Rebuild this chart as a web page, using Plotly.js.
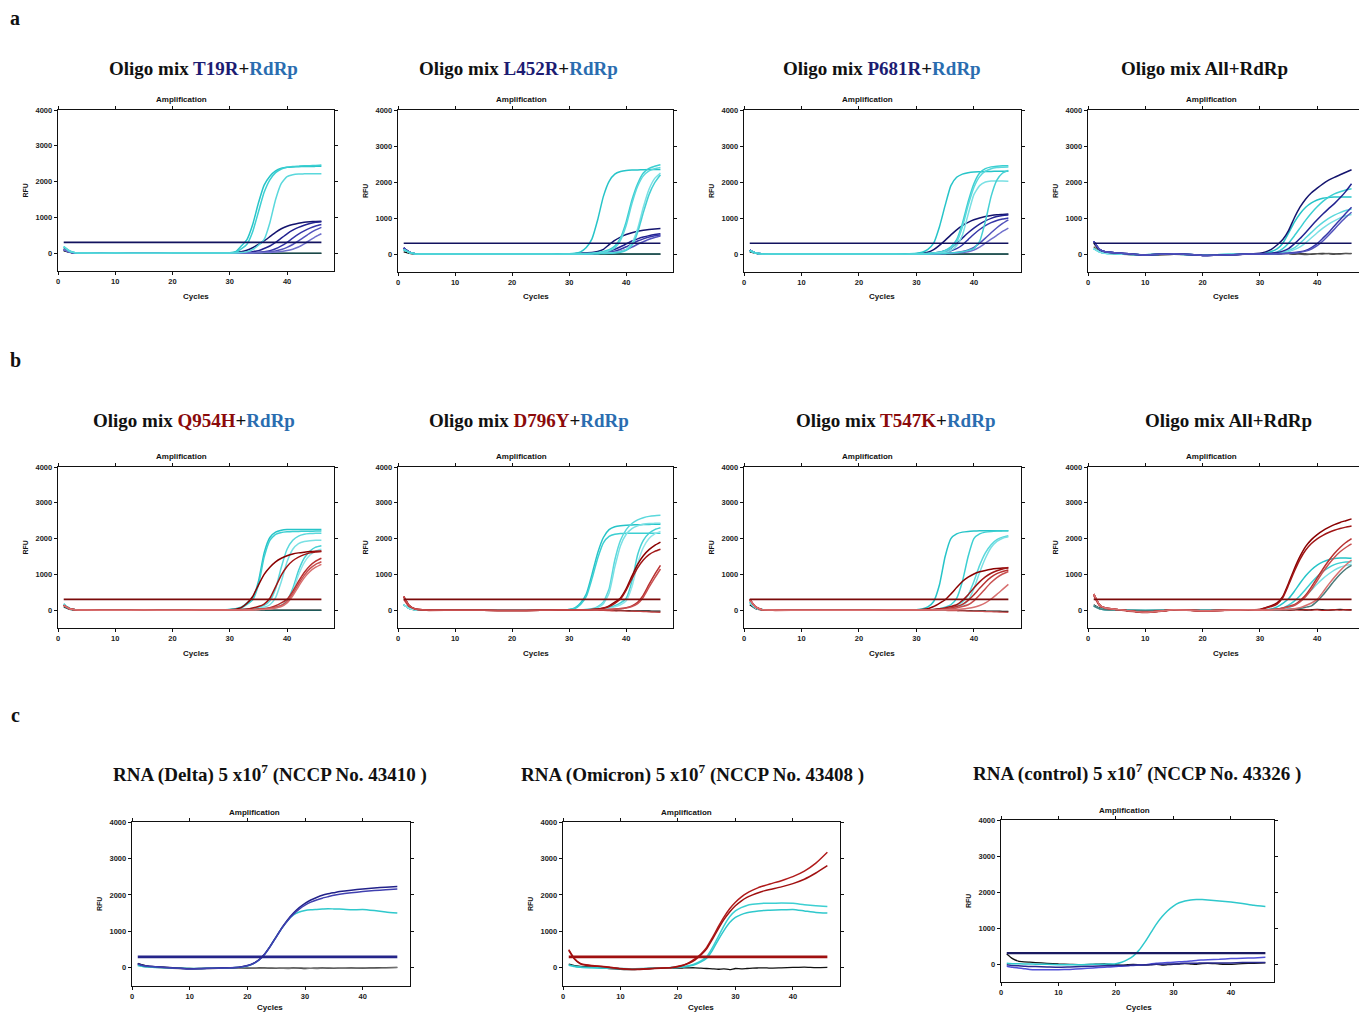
<!DOCTYPE html>
<html><head><meta charset="utf-8">
<script src="https://cdn.plot.ly/plotly-3.0.1.min.js"></script>
<style>html,body{margin:0;padding:0;background:#fff}#chart{width:1359px;height:1012px}</style>
</head><body><div id="chart"></div>
<script>
// ---------- cycles ----------
const CYC_EARLY = [1,2,3,5,10,15,20,25,28];
const CYC_LATE = [30,31,32,33,34,35,36,37,38,39,40,41,42,43,44,45,46];
const CYC_C = [1,2,3,4,5,6,8,10,12,14,16,18,19,20,21,22,23,24,25,26,27,28,29,30,31,32,33,34,35,36,38,40,42,44,46];
const THR_X = [1,46];
const THR_ROW_A = [300,300];
const THR_ROW_B = [300,300];
const THR_ROW_C = [300,300];
const X_TICKS = [0,10,20,30,40];
const Y_TICKS = [0,1000,2000,3000,4000];

// ---------- a1 : T19R ----------
const a1_cyan_early = [180,60,10,0,0,-5,0,0,5];
const a1_cyan = [
 [10,40,200,380,800,1400,1900,2150,2300,2370,2400,2410,2415,2420,2420,2425,2430],
 [5,20,120,250,600,1150,1700,2050,2250,2350,2400,2420,2430,2440,2445,2450,2460],
 [0,5,15,40,100,220,380,850,1500,1950,2140,2190,2210,2215,2220,2220,2220]];
const a1_navy_early = [100,30,5,0,0,0,0,0,5];
const a1_navy = [
 [10,20,40,80,150,240,340,460,580,680,750,800,835,860,875,885,890],
 [0,5,10,20,40,70,130,200,300,420,540,640,720,780,830,865,880],
 [0,0,5,10,15,25,40,70,120,200,300,420,530,620,700,760,800],
 [0,0,0,5,10,15,25,40,60,100,160,240,340,450,560,650,720],
 [0,0,0,0,5,10,15,20,30,45,70,110,170,260,360,460,540]];
const a1_neg = [
 [60,20,0,-5,-5,-5,-5,-5,-5,-5,-5,-5,-5,-5,-5,-5,-5,-5,-5,-5,-5,-5,-5,-5,-5,-5],
 [150,40,5,0,0,0,0,0,0,0,0,0,0,0,0,0,0,0,0,0,0,0,0,0,0,0]];

// ---------- a2 : L452R ----------
const a2_cyan_early = [120,40,5,0,0,0,0,0,5];
const a2_cyan = [
 [10,20,60,180,420,950,1600,2020,2220,2290,2320,2330,2335,2340,2345,2345,2350],
 [0,5,10,15,20,40,70,120,220,450,900,1500,1950,2250,2380,2440,2480],
 [0,0,5,10,15,30,50,90,170,380,800,1400,1880,2170,2310,2370,2400],
 [0,0,0,5,10,15,20,30,40,70,130,300,700,1300,1800,2100,2250],
 [0,0,0,0,5,10,15,20,30,50,100,240,600,1150,1650,1980,2200]];
const a2_navy_early = [170,50,10,0,0,0,-5,0,5];
const a2_navy = [
 [5,10,20,30,40,70,130,260,380,470,540,590,630,660,680,695,705],
 [0,5,10,15,20,30,50,80,130,200,280,360,420,470,510,540,560],
 [0,0,5,10,15,20,30,50,80,130,200,280,360,420,470,505,530],
 [0,0,0,5,10,15,20,30,50,80,120,190,270,340,410,460,500]];
const a2_neg = [
 [60,20,0,-5,-5,-5,-5,-5,-5,-5,-5,-5,-5,-5,-5,-5,-5,-5,-5,-5,-5,-5,-5,-5,-5,-5],
 [130,40,5,0,0,0,0,0,0,0,0,0,0,0,0,0,0,0,0,0,0,0,0,0,0,0]];

// ---------- a3 : P681R ----------
const a3_cyan_early = [90,30,5,0,0,0,0,0,5];
const a3_cyan = [
 [20,50,130,300,750,1350,1900,2130,2220,2260,2280,2285,2290,2295,2300,2300,2300],
 [5,10,20,30,50,100,200,400,850,1450,1950,2250,2370,2420,2440,2450,2450],
 [0,5,10,20,40,80,160,330,750,1350,1850,2150,2300,2370,2400,2410,2420],
 [0,5,10,15,25,40,100,230,520,1100,1650,1900,2000,2030,2030,2025,2020],
 [0,0,0,5,10,15,25,40,60,100,150,350,900,1600,2050,2250,2320]];
const a3_navy_early = [110,30,5,0,0,0,0,0,5];
const a3_navy = [
 [10,20,50,120,240,380,530,670,790,880,950,1000,1040,1070,1090,1100,1110],
 [0,5,15,30,50,90,160,290,440,590,720,830,920,990,1040,1070,1080],
 [0,0,5,15,30,50,90,150,250,400,550,680,790,870,930,970,1000],
 [0,0,0,5,10,20,30,45,70,110,180,300,440,590,730,850,950],
 [0,0,0,0,5,10,15,25,40,60,110,190,300,410,520,630,720]];
const a3_neg = [
 [60,20,0,-5,-5,-5,-5,-5,-5,-5,-5,-5,-5,-5,-5,-5,-5,-5,-5,-5,-5,-5,-5,-5,-5,-5],
 [100,30,5,0,0,0,0,0,0,0,0,0,0,0,0,0,0,0,0,0,0,0,0,0,0,0]];

// ---------- a4 : All ----------
const a4_navy_early = [350,130,60,30,-30,10,-40,-20,0];
const a4_navy = [
 [20,60,130,250,400,650,1000,1300,1530,1700,1830,1950,2050,2130,2200,2270,2340],
 [0,10,20,40,80,150,280,430,600,780,950,1110,1260,1400,1560,1740,1950],
 [0,0,5,10,15,25,40,60,100,180,290,440,600,780,950,1130,1300],
 [0,0,0,5,10,20,30,50,80,140,230,360,520,690,860,1020,1160]];
const a4_cyan_early = [150,60,20,10,-20,0,-30,-10,0];
const a4_cyan = [
 [10,30,70,140,300,580,880,1120,1300,1420,1500,1550,1570,1580,1585,1585,1580],
 [0,10,30,60,150,300,500,720,940,1140,1310,1460,1580,1670,1730,1780,1810],
 [0,0,10,20,50,100,170,300,450,600,750,880,990,1080,1150,1210,1250],
 [0,0,0,10,30,60,120,200,310,450,590,720,830,920,1000,1060,1100]];
const a4_neg = [
 [300,100,40,10,-40,-10,-30,-20,0,0,10,0,-10,20,10,0,10,0,-10,10,20,10,0,10,20,10],
 [200,80,30,0,-20,10,-40,-10,10,10,0,-10,0,10,20,10,0,-20,0,10,0,20,10,0,10,20]];

// ---------- b1 : Q954H ----------
const b1_cyan_early = [170,50,10,0,-5,-5,-5,0,5];
const b1_cyan = [
 [20,40,80,200,330,800,1600,2030,2180,2230,2250,2250,2250,2250,2255,2255,2255],
 [15,30,60,160,290,700,1480,1950,2120,2170,2190,2200,2200,2205,2205,2210,2210],
 [5,10,20,30,50,80,130,260,600,1200,1700,1950,2070,2120,2140,2150,2150],
 [0,5,10,20,30,50,80,150,350,800,1350,1700,1860,1920,1940,1950,1950],
 [0,0,5,10,15,25,35,50,80,130,260,600,1100,1450,1650,1760,1800],
 [0,0,0,5,10,20,30,40,60,110,230,520,980,1330,1540,1650,1700]];
const b1_red_early = [130,40,10,0,-5,0,-5,0,5];
const b1_red = [
 [10,25,70,190,380,700,1000,1200,1350,1450,1520,1570,1600,1620,1635,1645,1650],
 [0,5,15,30,60,100,170,330,650,980,1220,1380,1480,1550,1600,1625,1640],
 [0,0,5,10,20,30,40,70,120,200,300,520,800,1050,1240,1370,1450],
 [0,0,0,5,10,20,30,50,80,130,240,450,730,970,1160,1280,1350],
 [0,0,0,0,5,10,20,30,60,100,200,400,660,900,1080,1200,1280]];
const b1_neg = [
 [140,40,5,0,0,0,0,0,0,0,0,0,0,0,0,0,0,0,0,0,0,0,0,0,0,0],
 [80,20,0,-5,-5,-5,-5,-5,-5,-5,-5,-5,-5,-5,-5,-5,-5,-5,-5,-5,-5,-5,-5,-5,-5,-5]];

// ---------- b2 : D796Y ----------
const b2_cyan_early = [150,40,10,0,-5,-5,-5,0,0];
const b2_cyan = [
 [20,60,200,450,1000,1600,2030,2250,2330,2360,2375,2380,2385,2390,2395,2400,2400],
 [15,45,160,380,880,1450,1880,2060,2120,2140,2150,2150,2150,2150,2150,2150,2150],
 [0,5,10,20,40,100,230,600,1400,1950,2250,2420,2520,2580,2620,2640,2650],
 [0,5,10,15,30,70,180,480,1200,1800,2120,2280,2360,2400,2420,2425,2430],
 [0,0,5,10,15,25,40,70,120,200,330,800,1550,1950,2150,2250,2300],
 [0,0,0,5,10,20,30,50,90,150,260,650,1300,1750,2000,2130,2200]];
const b2_red_early = [380,120,30,5,-5,-5,-10,-5,0];
const b2_red = [
 [0,0,5,10,20,30,60,120,220,340,600,950,1280,1520,1690,1810,1900],
 [0,0,0,5,15,25,50,100,190,310,560,880,1180,1400,1550,1640,1700],
 [0,0,0,0,5,10,15,20,30,45,70,120,220,420,720,1000,1250],
 [0,0,0,0,0,5,10,15,25,40,60,100,180,360,640,900,1150]];
const b2_neg = [
 [150,40,5,-5,-5,-5,-5,-5,-5,-5,-5,-5,-5,-5,-5,-5,-5,-10,-10,-15,-20,-20,-25,-25,-30,-30],
 [300,80,10,-10,-5,-10,-5,-5,-10,-10,-10,-10,-10,-10,-10,-10,-15,-20,-20,-25,-30,-35,-40,-50,-55,-60]];

// ---------- b3 : T547K ----------
const b3_cyan_early = [220,60,15,0,-5,-5,-5,0,0];
const b3_cyan = [
 [10,30,90,240,700,1500,2000,2130,2180,2200,2210,2215,2215,2220,2220,2220,2220],
 [0,5,10,20,40,80,150,330,800,1500,2000,2130,2180,2200,2210,2215,2220],
 [0,0,5,10,20,40,70,130,230,420,800,1250,1600,1830,1970,2040,2080],
 [0,0,0,5,10,20,40,70,140,270,600,1050,1450,1750,1920,2010,2050]];
const b3_red_early = [300,90,20,0,-5,-5,-5,0,0];
const b3_red = [
 [10,20,40,100,190,290,450,630,800,920,1010,1070,1110,1140,1160,1175,1180],
 [0,5,10,20,35,60,100,150,270,430,620,790,930,1030,1100,1150,1190],
 [0,0,5,10,20,35,60,100,160,270,430,610,780,920,1020,1080,1120],
 [0,0,0,5,10,20,35,60,100,150,260,420,600,770,910,1010,1080],
 [0,0,0,0,5,10,15,20,30,50,80,130,200,310,440,580,720]];
const b3_neg = [
 [150,40,5,-5,-5,-5,-5,-5,-5,-5,-5,-5,-5,-5,-5,-5,-10,-10,-15,-20,-20,-25,-30,-30,-35,-35],
 [250,70,10,-10,-5,-10,-5,-5,-10,-10,-10,-10,-10,-10,-10,-15,-15,-20,-25,-30,-35,-40,-45,-50,-55,-60]];

// ---------- b4 : All ----------
const b4_red_early = [450,150,60,20,-60,10,-20,0,10];
const b4_red = [
 [20,70,120,200,380,750,1150,1500,1780,1970,2110,2220,2310,2390,2450,2500,2550],
 [15,60,100,170,350,700,1080,1420,1680,1860,1990,2090,2170,2230,2280,2320,2350],
 [0,5,15,30,60,100,150,260,420,650,900,1150,1380,1580,1750,1890,2000],
 [0,5,10,25,50,90,130,230,380,580,820,1060,1280,1470,1630,1750,1850],
 [0,0,5,10,15,25,40,70,130,200,300,500,720,920,1100,1260,1400]];
const b4_cyan_early = [120,40,10,0,-10,0,-5,0,0];
const b4_cyan = [
 [5,15,30,90,190,320,520,750,960,1130,1260,1350,1410,1440,1455,1460,1450],
 [0,5,15,30,60,140,250,400,580,770,940,1080,1190,1270,1320,1345,1350],
 [0,0,5,15,30,60,140,250,390,560,730,880,1010,1120,1200,1250,1280],
 [0,0,0,5,10,20,35,50,80,120,250,420,620,820,1000,1150,1250]];
const b4_neg = [
 [150,60,20,10,-20,0,-10,0,5,0,10,0,-10,10,0,10,20,0,10,20,10,0,10,20,10,10],
 [400,120,50,10,-70,0,-20,-10,10,0,10,0,0,-10,0,10,0,10,0,10,-10,0,10,0,10,0]];

// ---------- c1 : Delta ----------
const c1_navy = [
 [110,60,40,30,20,10,-10,-30,-20,-10,0,10,30,60,120,220,380,600,850,1100,1320,1500,1650,1770,1860,1930,1990,2030,2060,2090,2130,2160,2190,2210,2230],
 [100,55,35,25,15,5,-15,-35,-25,-15,-5,5,25,55,110,210,370,590,840,1090,1300,1470,1610,1720,1800,1860,1910,1950,1990,2020,2060,2090,2120,2140,2160]];
const c1_cyan = [
 [60,30,20,10,5,0,-10,-20,-20,-10,-5,5,20,50,110,210,370,600,850,1090,1300,1450,1530,1570,1590,1600,1610,1620,1615,1610,1590,1600,1570,1530,1500]];
const c1_neg = [
 [120,70,40,30,20,10,-5,-20,-20,-15,-10,-5,-5,-10,-10,-5,-5,-10,-15,-10,-10,-5,-10,-20,-15,-10,-5,-10,-15,-10,-5,-10,0,5,10],
 [80,40,20,10,0,-10,-20,-30,-25,-20,-15,-10,-10,-5,-10,-15,-10,-5,-10,-15,-20,-10,-5,-10,-15,-20,-10,-5,-10,-15,-10,-5,-10,0,5]];

// ---------- c2 : Omicron ----------
const c2_red = [
 [500,250,120,80,60,50,20,-20,-40,-30,-10,0,10,40,80,150,250,380,560,830,1120,1390,1620,1800,1940,2050,2130,2200,2250,2300,2390,2500,2650,2870,3170],
 [480,240,110,70,50,40,10,-30,-50,-40,-20,-5,5,30,70,130,220,350,520,780,1060,1320,1530,1700,1830,1930,2000,2060,2110,2150,2220,2310,2430,2600,2800]];
const c2_cyan = [
 [80,40,20,10,5,0,-10,-20,-30,-20,-10,0,5,15,30,60,110,190,300,550,850,1150,1400,1560,1650,1710,1740,1760,1770,1770,1775,1770,1730,1700,1680],
 [70,35,15,5,0,-5,-15,-25,-30,-25,-10,0,5,10,25,50,90,160,260,480,760,1020,1240,1380,1460,1510,1540,1560,1575,1580,1590,1600,1560,1520,1500]];
const c2_neg = [
 [100,60,40,30,20,10,-20,-40,-50,-30,-10,0,-5,-10,-5,0,0,-10,-20,-30,-40,-30,-50,-20,-30,-20,-10,-5,0,-10,0,10,20,5,10]];

// ---------- c3 : control ----------
const c3_cyan = [
 [20,10,5,0,0,-5,-10,-20,-20,-20,-10,-5,0,10,50,120,220,380,600,850,1100,1310,1480,1610,1700,1750,1780,1790,1790,1780,1750,1720,1680,1630,1600]];
const c3_blue = [
 [-60,-90,-110,-130,-150,-160,-160,-160,-150,-130,-110,-90,-80,-70,-60,-50,-40,-30,-20,0,20,30,40,50,60,70,80,100,110,120,130,150,160,170,185],
 [-20,-40,-50,-60,-70,-70,-80,-90,-80,-70,-60,-50,-50,-40,-40,-40,-30,-30,-20,-20,-10,-10,0,0,10,20,20,20,30,30,30,30,40,40,40]];
const c3_neg = [
 [280,150,80,60,50,40,20,0,-10,-20,-10,0,-10,-20,-30,-20,-10,-20,-30,-20,-10,-30,-20,-10,0,10,0,-10,10,20,0,-10,10,20,30]];

// ---------- styles ----------
const NAVY = ['#14146e','#222290','#3636a8','#5252bc','#7070cc'];
const CYAN = ['#26c4c8','#3ccfd2','#5ad8dc','#7ae0e4','#45d0d4','#8fe6ea'];
const RED = ['#8a0000','#a01515','#b83030','#c85050','#d87070'];
const NEGC = ['#111111','#1e5a5a'];

const NAVYT = '#1c1c72', BLUET = '#2a6db0', REDT = '#8b0a0a';
function t(mid, col){ return 'Oligo mix <span style="color:'+col+'">'+mid+'</span>+<span style="color:'+BLUET+'">RdRp</span>'; }

const PANELS = [
 {box:[58,334,110,271], xr:[0,48.2], thr:THR_ROW_A, thrC:'#12125e', thrW:1.6, cut:false,
  groups:[{e:a1_navy_early,c:a1_navy,col:NAVY},{e:a1_cyan_early,c:a1_cyan,col:CYAN}], neg:a1_neg, negc:NEGC,
  title:t('T19R',NAVYT), tp:[203,68]},
 {box:[398,673,110,272], xr:[0,48.2], thr:THR_ROW_A, thrC:'#12125e', thrW:1.6, cut:false,
  groups:[{e:a2_navy_early,c:a2_navy,col:NAVY},{e:a2_cyan_early,c:a2_cyan,col:CYAN}], neg:a2_neg, negc:NEGC,
  title:t('L452R',NAVYT), tp:[518,68]},
 {box:[744,1021,110,272], xr:[0,48.2], thr:THR_ROW_A, thrC:'#12125e', thrW:1.6, cut:false,
  groups:[{e:a3_navy_early,c:a3_navy,col:NAVY},{e:a3_cyan_early,c:a3_cyan,col:CYAN}], neg:a3_neg, negc:NEGC,
  title:t('P681R',NAVYT), tp:[882,68]},
 {box:[1088,1359,110,272], xr:[0,47.3], thr:THR_ROW_A, thrC:'#12125e', thrW:1.6, cut:true,
  groups:[{e:a4_cyan_early,c:a4_cyan,col:CYAN},{e:a4_navy_early,c:a4_navy,col:NAVY}], neg:a4_neg, negc:['#111111','#555555'],
  title:'Oligo mix All+RdRp', tp:[1204,68]},
 {box:[58,334,467,628], xr:[0,48.2], thr:THR_ROW_B, thrC:'#7a0a0a', thrW:1.6, cut:false,
  groups:[{e:b1_cyan_early,c:b1_cyan,col:CYAN},{e:b1_red_early,c:b1_red,col:RED}], neg:b1_neg, negc:NEGC,
  title:t('Q954H',REDT), tp:[194,421]},
 {box:[398,673,467,628], xr:[0,48.2], thr:THR_ROW_B, thrC:'#7a0a0a', thrW:1.6, cut:false,
  groups:[{e:b2_cyan_early,c:b2_cyan,col:CYAN},{e:b2_red_early,c:b2_red,col:RED}], neg:b2_neg, negc:['#111111','#c04040'],
  title:t('D796Y',REDT), tp:[529,421]},
 {box:[744,1021,467,628], xr:[0,48.2], thr:THR_ROW_B, thrC:'#7a0a0a', thrW:1.6, cut:false,
  groups:[{e:b3_cyan_early,c:b3_cyan,col:CYAN},{e:b3_red_early,c:b3_red,col:RED}], neg:b3_neg, negc:['#111111','#c85050'],
  title:t('T547K',REDT), tp:[895,421]},
 {box:[1088,1359,467,628], xr:[0,47.3], thr:THR_ROW_B, thrC:'#7a0a0a', thrW:1.6, cut:true,
  groups:[{e:b4_cyan_early,c:b4_cyan,col:['#26c4c8','#3ccfd2','#7ae0e4','#4a7a7a']},{e:b4_red_early,c:b4_red,col:RED}], neg:b4_neg, negc:['#111111','#b02020'],
  title:'Oligo mix All+RdRp', tp:[1228,421]},
 {box:[132,410,822,986], xr:[0,48.2], thr:THR_ROW_C, thrC:'#25258a', thrW:2.6, cut:false,
  groups:[{c:c1_cyan,col:['#2fc8cc']},{c:c1_navy,col:['#22228a','#4040b0']}], neg:c1_neg, negc:['#111111','#777777'],
  title:'RNA (Delta) 5 x10<sup>7</sup> (NCCP No. 43410 )', tp:[270,773], cyc:1007},
 {box:[563,840,822,986], xr:[0,48.2], thr:THR_ROW_C, thrC:'#a01010', thrW:2.6, cut:false,
  groups:[{c:c2_cyan,col:['#3ccfd2','#2fc8cc']},{c:c2_red,col:['#b01a1a','#a01010']}], neg:c2_neg, negc:['#111111'],
  title:'RNA (Omicron) 5 x10<sup>7</sup> (NCCP No. 43408 )', tp:[692,773], cyc:1007},
 {box:[1001,1274,820,982], xr:[0,47.5], thr:THR_ROW_C, thrC:'#1a1a60', thrW:2.2, cut:false,
  groups:[{c:c3_blue,col:['#5050d8','#2a2a90']},{c:c3_cyan,col:['#2fc8cc']}], neg:c3_neg, negc:['#111111'],
  title:'RNA (control) 5 x10<sup>7</sup> (NCCP No. 43326 )', tp:[1137,772]}
];

const W=1359,H=1012;
const data=[];
const layout={width:W,height:H,margin:{l:0,r:0,t:0,b:0},paper_bgcolor:'#fff',plot_bgcolor:'rgba(0,0,0,0)',
  showlegend:false,annotations:[],hovermode:false};
const SANS='Arial, Liberation Sans, sans-serif';
const SERIF='Times New Roman, Liberation Serif, serif';
function px(x){return x/W;} function py(y){return 1-y/H;}
const XFULL = CYC_EARLY.concat(CYC_LATE);

PANELS.forEach((p,i)=>{
  const n=i+1, sfx=(n===1?'':String(n));
  const xa='x'+sfx, ya='y'+sfx;
  const [L,R,T,B]=p.box;
  const tickfont={family:SANS,size:7.5,color:'#222',weight:'bold'};
  layout['xaxis'+sfx]={domain:[px(L),px(R)],range:p.xr,anchor:ya,showline:true,linecolor:'#111',linewidth:1.3,
    mirror:'ticks',showgrid:false,zeroline:false,ticks:'outside',ticklen:3,tickwidth:1,tickcolor:'#111',
    tickvals:X_TICKS,tickfont:tickfont,fixedrange:true};
  layout['yaxis'+sfx]={domain:[py(B),py(T)],range:[-500,4000],anchor:xa,showline:true,linecolor:'#111',linewidth:1.3,
    mirror:p.cut?false:'ticks',showgrid:false,zeroline:false,ticks:'outside',ticklen:3,tickwidth:1,tickcolor:'#111',
    tickvals:Y_TICKS,tickfont:tickfont,fixedrange:true};
  p.neg.forEach((v,k)=>{
    data.push({x:(v.length===CYC_C.length?CYC_C:XFULL),y:v,xaxis:xa,yaxis:ya,mode:'lines',
      line:{color:p.negc[k%p.negc.length],width:1.3,shape:'spline',smoothing:0.5}});
  });
  p.groups.forEach(g=>{
    g.c.forEach((v,k)=>{
      data.push({x:g.e?XFULL:CYC_C,y:g.e?g.e.concat(v):v,xaxis:xa,yaxis:ya,mode:'lines',
        line:{color:g.col[k%g.col.length],width:1.5,shape:'spline',smoothing:0.5}});
    });
  });
  data.push({x:THR_X,y:p.thr,xaxis:xa,yaxis:ya,mode:'lines',line:{color:p.thrC,width:p.thrW}});
  const A=layout.annotations;
  A.push({text:'Amplification',x:px(L+123),y:py(T-10),xref:'paper',yref:'paper',showarrow:false,xanchor:'center',yanchor:'middle',
    font:{family:SANS,size:8,color:'#111',weight:'bold'}});
  A.push({text:'Cycles',x:px(L+138),y:py(p.cyc||(B+25)),xref:'paper',yref:'paper',showarrow:false,xanchor:'center',yanchor:'middle',
    font:{family:SANS,size:8,color:'#111',weight:'bold'}});
  A.push({text:'RFU',x:px(L-33),y:py((T+B)/2),xref:'paper',yref:'paper',showarrow:false,xanchor:'center',yanchor:'middle',textangle:-90,
    font:{family:SANS,size:7,color:'#111',weight:'bold'}});
  A.push({text:p.title,x:px(p.tp[0]),y:py(p.tp[1]),xref:'paper',yref:'paper',showarrow:false,xanchor:'center',yanchor:'middle',
    font:{family:SERIF,size:19,color:'#111',weight:'bold'}});
});
[['a',15,18],['b',15,360],['c',15,715]].forEach(l=>{
  layout.annotations.push({text:l[0],x:px(l[1]),y:py(l[2]),xref:'paper',yref:'paper',showarrow:false,xanchor:'center',yanchor:'middle',
    font:{family:SERIF,size:20,color:'#111',weight:'bold'}});
});
Plotly.newPlot('chart',data,layout,{staticPlot:true,displayModeBar:false});
</script></body></html>
